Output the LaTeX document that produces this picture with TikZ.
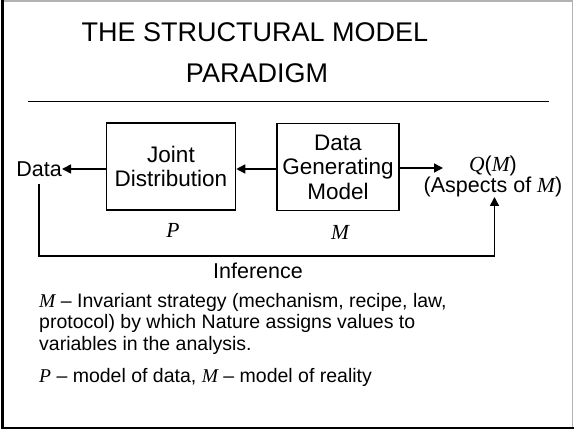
\documentclass[tikz,border=0pt]{standalone}
\usepackage{fontspec}
\setmainfont{Liberation Sans}
\newfontfamily\serifit{Liberation Serif}[ItalicFont={Liberation Serif Italic}]
\usetikzlibrary{arrows.meta}
\newcommand{\mv}[1]{{\serifit\itshape #1}}
\begin{document}
\begin{tikzpicture}[x=1pt,y=-1pt,
  box/.style={draw,line width=1.6pt,minimum width=129pt,minimum height=87pt,inner sep=0pt,align=center,font=\fontsize{22.5}{24.5}\selectfont},
  lbl/.style={inner sep=0pt,align=center,font=\fontsize{21.5}{21}\selectfont},
  ttl/.style={inner sep=0pt,anchor=base,font=\fontsize{27}{33}\selectfont},
  arr/.style={line width=1.6pt,-{Triangle[length=9pt,width=9pt]}},
  body/.style={inner sep=0pt,anchor=north west,align=left,font=\fontsize{19.5}{21.5}\selectfont}]
\useasboundingbox (0,0) rectangle (574,430);
% frame
\draw[gray!60,line width=1.5pt] (2,1) -- (572.5,1) -- (572.5,428);
\draw[black,line width=2.5pt] (2.5,0) -- (2.5,428) -- (574,428);
% title
\node[ttl] (title1) at (255,42) {THE STRUCTURAL MODEL};
\node[ttl] (title2) at (257,83) {PARADIGM};
\draw[line width=0.8pt] (28,101) coordinate (hl) -- (549,101) coordinate (hr);
% boxes
\node[box] (jd) at (171,166.5) {Joint\\Distribution};
\node[box,minimum width=122pt] (dgm) at (338,167) {Data\\Generating\\Model};
\node[lbl,anchor=east] (data) at (62,169) {Data};
\node[lbl] (q) at (493,176) {\mv{Q}(\mv{M})\\(Aspects of \mv{M})};
\coordinate (qin) at (443,168);
\node[lbl] (p) at (173,230) {\mv{P}};
\node[lbl] (m) at (340,232) {\mv{M}};
\draw[arr] (jd.west |- 0,169) -- (data.east);
\draw[arr] (dgm.west |- 0,169) -- (jd.east |- 0,169);
\draw[arr] (dgm.east |- 0,168) -- (qin);
% inference loop
\coordinate (ds) at (39,184);
\coordinate (qs) at (494.5,197);
\draw[arr] (ds) -- (39,256) -- (494.5,256) -- (qs);
\node[lbl] (inf) at (258,271) {Inference};
% body text
\node[body] (t1) at (39,293) {\mv{M} – Invariant strategy (mechanism, recipe, law,\\protocol) by which Nature assigns values to\\variables in the analysis.};
\node[body,anchor=west] (t2) at (39,377) {\mv{P} – model of data, \mv{M} – model of reality};
\end{tikzpicture}
\end{document}
